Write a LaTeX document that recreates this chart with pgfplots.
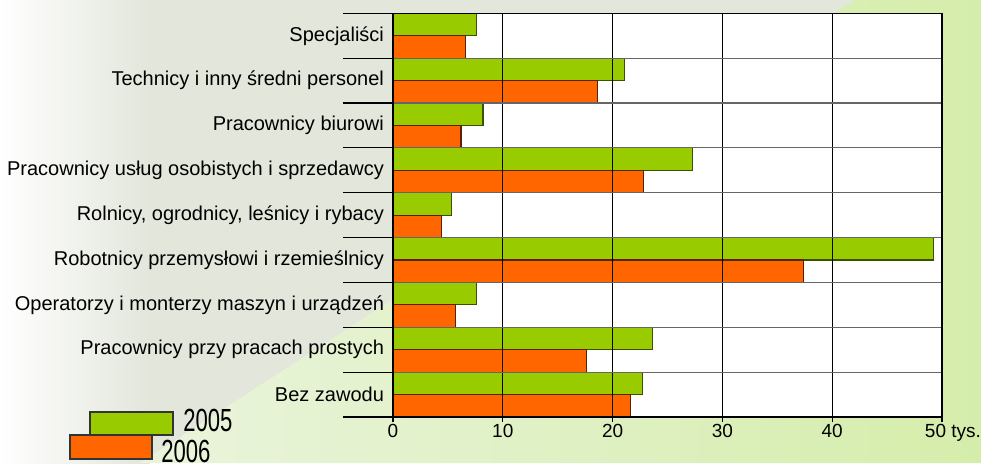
\documentclass[border=0pt]{standalone}
\usepackage{fontspec}
\setmainfont{Liberation Sans}
\usepackage{graphicx}
\usepackage{pgfplots}
\pgfplotsset{compat=1.18}
\definecolor{bggrey}{HTML}{E2E6DB}
\definecolor{bglight}{HTML}{EAF4DC}
\definecolor{bggreen}{HTML}{D5EDAB}
\definecolor{cgreen}{HTML}{99CC00}
\definecolor{corange}{HTML}{FF6600}
\definecolor{dgreen}{HTML}{3A5200}
\definecolor{dorange}{HTML}{5A2000}
\begin{document}
\begin{tikzpicture}
\useasboundingbox (0,0) rectangle (490.5pt,231.5pt);
\fill[bggrey] (0,0) rectangle (490.5pt,231.5pt);
\shade[left color=white, right color=bggrey] (0,0) rectangle (75pt,231.5pt);
\shade[left color=bglight, right color=bggreen] (427.5pt,231.5pt) -- (490.5pt,231.5pt) -- (490.5pt,0) -- (70pt,0) -- cycle;
\begin{axis}[
  at={(196.5pt,23pt)}, anchor=south west,
  scale only axis, width=274.5pt, height=201.85pt,
  xmin=0, xmax=50, ymin=-0.5, ymax=8.5, y dir=reverse,
  xbar, bar width=0.5,
  axis on top,
  axis background/.style={fill=white},
  axis line style={black, line width=0.6pt},
  xtick={0,10,...,50},
  xticklabels={0,10,20,30,40,{\rlap{\hspace{-8.5pt}50 tys.}}},
  xmajorgrids, major grid style={black, line width=0.6pt},
  ytick={0,...,8},
  yticklabels={Specjaliści, Technicy i inny średni personel, Pracownicy biurowi, Pracownicy usług osobistych i sprzedawcy, {Rolnicy, ogrodnicy, leśnicy i rybacy}, Robotnicy przemysłowi i rzemieślnicy, Operatorzy i monterzy maszyn i urządzeń, Pracownicy przy pracach prostych, Bez zawodu},
  minor ytick={-0.5,0.5,...,8.5},
  yminorgrids, minor grid style={black!60, line width=0.6pt},
  minor tick length=25pt, major tick length=2.5pt,
  tick align=outside,
  xtick pos=bottom, ytick pos=left,
  major y tick style={draw=none},
  tick style={black, line width=0.6pt},
  /pgf/number format/assume math mode=true,
  yticklabel style={font=\fontsize{10}{12}\selectfont, xshift=1.5pt},
  xticklabel style={font=\fontsize{9.5}{11}\selectfont, inner sep=1pt},
]
\addplot[fill=cgreen, draw=dgreen, line width=0.6pt, bar shift=-0.25] coordinates {(7.6,0) (21.1,1) (8.2,2) (27.3,3) (5.3,4) (49.2,5) (7.6,6) (23.6,7) (22.7,8)};
\addplot[fill=corange, draw=dorange, line width=0.6pt, bar shift=0.25] coordinates {(6.6,0) (18.6,1) (6.2,2) (22.8,3) (4.4,4) (37.4,5) (5.7,6) (17.6,7) (21.6,8)};
\end{axis}
\draw[fill=cgreen, draw=black!80, line width=0.6pt] (45pt,14pt) rectangle (86.5pt,25.5pt);
\draw[fill=corange, draw=black!80, line width=0.6pt] (35pt,2pt) rectangle (76pt,14pt);
\node[anchor=west, inner sep=0pt] at (91.5pt,21.25pt) {\fontsize{16}{18}\selectfont\scalebox{0.69}[1]{2005}};
\node[anchor=west, inner sep=0pt] at (80.5pt,5.75pt) {\fontsize{16}{18}\selectfont\scalebox{0.69}[1]{2006}};
\end{tikzpicture}
\end{document}
